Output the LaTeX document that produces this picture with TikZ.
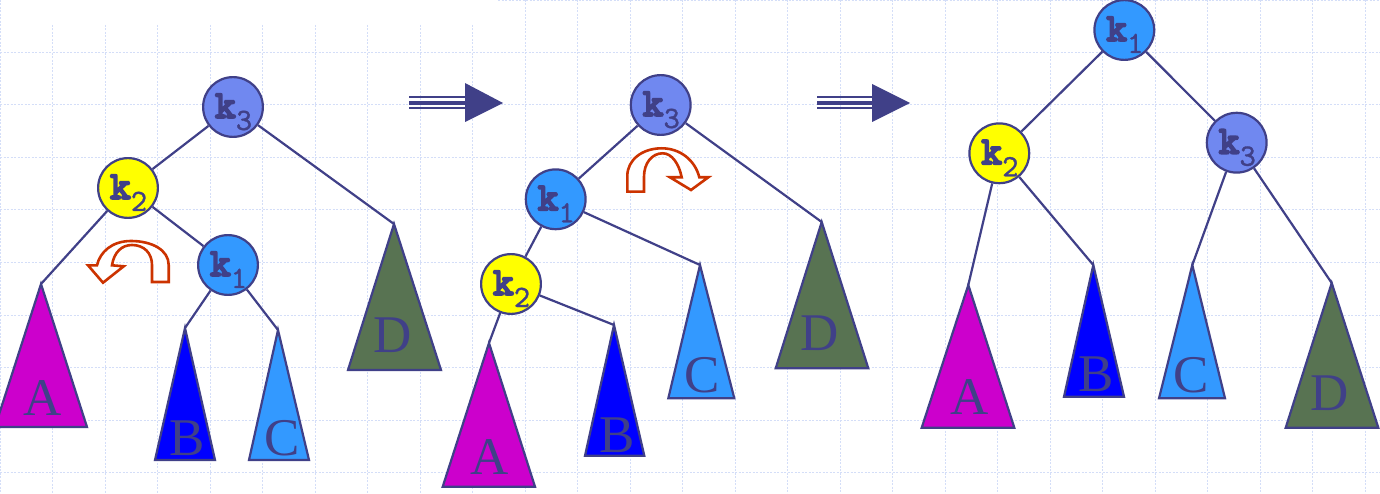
\documentclass[tikz,border=0pt]{standalone}
\usepackage{fontspec}
\newfontfamily\seriff{Liberation Serif}
\newfontfamily\kfont{lmmonolt10-bold.otf}[FakeBold=4]
\newfontfamily\dfont{lmmono10-regular.otf}[FakeBold=1]
\usetikzlibrary{backgrounds}
\definecolor{ink}{HTML}{404088}
\definecolor{kone}{HTML}{3399FF}
\definecolor{ktwo}{HTML}{FFFF00}
\definecolor{kthree}{HTML}{7088F0}
\definecolor{cA}{HTML}{CC00CC}
\definecolor{cB}{HTML}{0000FF}
\definecolor{cC}{HTML}{3399FF}
\definecolor{cD}{HTML}{587352}
\definecolor{rotred}{HTML}{CC3300}
\definecolor{gridc}{HTML}{D4DEF8}
\newcommand\kk[1]{\kern1pt{\kfont\fontsize{40}{40}\selectfont k}\lower12pt\hbox{\dfont\fontsize{31}{31}\selectfont #1}}
\tikzset{
  knode/.style={circle, draw=ink, line width=2.2pt, minimum size=57.5pt, inner sep=0pt,
    text=ink, text height=34pt, text depth=12pt},
  edge/.style={draw=ink, line width=2.2pt},
  tri/.style={draw=ink, line width=2.2pt, line join=miter},
  tlabel/.style={inner sep=0pt, text=ink, font=\seriff\fontsize{53}{53}\selectfont},
  rot/.style={draw=rotred, line width=2.6pt, fill=white, line join=miter},
  gridl/.style={draw=gridc, line width=1pt, dash pattern=on 2pt off 1.5pt},
  shaft/.style={draw=ink},
}
\begin{document}
\begin{tikzpicture}[x=1pt,y=-1pt]
\useasboundingbox (0,0) rectangle (1380,494);
\clip (0,0) rectangle (1380,494);
% ---------- grid (background)
\begin{scope}[on background layer]
  \fill[white] (0,0) rectangle (1380,494);
  \foreach \i in {1,...,9} \draw[gridl] (0,52.5*\i) -- (1380,52.5*\i);
  \draw[gridl] (498,0.6) -- (1380,0.6);
  \draw[gridl] (0.6,0) -- (0.6,494);
  \foreach \i in {1,...,9} \draw[gridl] (52.5*\i,25) -- (52.5*\i,494);
  \foreach \i in {10,...,26} \draw[gridl] (52.5*\i,0) -- (52.5*\i,494);
\end{scope}

% ================= LEFT TREE =================
\node[knode, fill=kthree] (Lk3) at (233,107) {\kk{3}};
\node[knode, fill=ktwo]   (Lk2) at (128,188) {\kk{2}};
\node[knode, fill=kone]   (Lk1) at (228,265) {\kk{1}};
\coordinate (LA) at (41,284);
\coordinate (LB) at (185,328);
\coordinate (LC) at (278,330);
\coordinate (LD) at (394,224);
\draw[tri, fill=cA] (LA) -- (-5,427) -- (87,427) -- cycle;
\draw[tri, fill=cB] (LB) -- (155,460) -- (215,460) -- cycle;
\draw[tri, fill=cC] (LC) -- (249,460) -- (309,460) -- cycle;
\draw[tri, fill=cD] (LD) -- (348,370) -- (441,370) -- cycle;
\node[tlabel] (LlA) at (43,398) {A};
\node[tlabel] (LlB) at (187,438) {B};
\node[tlabel] (LlC) at (282,438) {C};
\node[tlabel] (LlD) at (393,335) {D};
\begin{scope}[on background layer]
  \draw[edge] (Lk3) -- (Lk2);
  \draw[edge] (Lk3) -- (LD);
  \draw[edge] (Lk2) -- (LA);
  \draw[edge] (Lk2) -- (Lk1);
  \draw[edge] (Lk1) -- (LB);
  \draw[edge] (Lk1) -- (LC);
\end{scope}
% rotation arrow (left)
\draw[rot] (168.7,282) -- (168.7,265) .. controls (168.7,250) and (152,241) .. (131,241)
  .. controls (112,241) and (100,252) .. (97,265.3) -- (88,265.3) -- (103,282.7) -- (123.7,266.3)
  -- (112,265.3) .. controls (114,252) and (122,245) .. (132,245)
  .. controls (144,245) and (152,253) .. (152,265) -- (152,282) -- cycle;

% ================= ARROW 1 =================
\draw[shaft, line width=2pt] (409,97) -- (466,97);
\draw[shaft, line width=4.2pt] (409,102.8) -- (466,102.8);
\draw[shaft, line width=2.2pt] (409,107.8) -- (466,107.8);
\fill[ink] (465,83) -- (503,103) -- (465,122) -- cycle;

% ================= MIDDLE TREE =================
\node[knode, fill=kthree] (Mk3) at (660.7,105) {\kk{3}};
\node[knode, fill=kone]   (Mk1) at (555.7,199.3) {\kk{1}};
\node[knode, fill=ktwo]   (Mk2) at (511,284) {\kk{2}};
\coordinate (MA) at (489,343);
\coordinate (MB) at (614,325);
\coordinate (MC) at (700,265);
\coordinate (MD) at (821.7,222);
\draw[tri, fill=cA] (MA) -- (442.7,486.7) -- (535,486.7) -- cycle;
\draw[tri, fill=cB] (MB) -- (585,455.7) -- (644.3,455.7) -- cycle;
\draw[tri, fill=cC] (MC) -- (668.3,398.3) -- (734.3,398.3) -- cycle;
\draw[tri, fill=cD] (MD) -- (775.7,368.3) -- (868.3,368.3) -- cycle;
\node[tlabel] (MlA) at (490,456.7) {A};
\node[tlabel] (MlB) at (616.7,435) {B};
\node[tlabel] (MlC) at (701.7,375) {C};
\node[tlabel] (MlD) at (820,333) {D};
\begin{scope}[on background layer]
  \draw[edge] (Mk3) -- (Mk1);
  \draw[edge] (Mk3) -- (MD);
  \draw[edge] (Mk1) -- (Mk2);
  \draw[edge] (Mk1) -- (MC);
  \draw[edge] (Mk2) -- (MA);
  \draw[edge] (Mk2) -- (MB);
\end{scope}
% rotation arrow (middle)
\draw[rot] (627.3,191.7) -- (627.3,176) .. controls (627.3,160) and (642,148.3) .. (661.7,148.3)
  .. controls (680,148.3) and (695,160) .. (699.3,177.3) -- (708.3,177.3) -- (691,190) -- (670,177.3)
  -- (681.7,177.3) .. controls (679,164) and (672,153.3) .. (662.7,153.3)
  .. controls (652,153.3) and (644,163) .. (644,176.7) -- (644,191.7) -- cycle;

% ================= ARROW 2 =================
\draw[shaft, line width=2pt] (817,97.5) -- (873,97.5);
\draw[shaft, line width=4.2pt] (817,103) -- (873,103);
\draw[shaft, line width=2.2pt] (817,108) -- (873,108);
\fill[ink] (872,84) -- (910,103) -- (872,122) -- cycle;

% ================= RIGHT TREE =================
\node[knode, fill=kone]   (Rk1) at (1124.3,30) {\kk{1}};
\node[knode, fill=ktwo]   (Rk2) at (999.3,153.3) {\kk{2}};
\node[knode, fill=kthree] (Rk3) at (1236.7,142.7) {\kk{3}};
\coordinate (RA) at (968.3,285);
\coordinate (RB) at (1093.3,265);
\coordinate (RC) at (1192.3,265);
\coordinate (RD) at (1331.7,283);
\draw[tri, fill=cA] (RA) -- (921.7,427.7) -- (1014.3,427.7) -- cycle;
\draw[tri, fill=cB] (RB) -- (1064,396.7) -- (1124,396.7) -- cycle;
\draw[tri, fill=cC] (RC) -- (1159,398.3) -- (1225,398.3) -- cycle;
\draw[tri, fill=cD] (RD) -- (1285.7,427.7) -- (1378.3,427.7) -- cycle;
\node[tlabel] (RlA) at (970,396.7) {A};
\node[tlabel] (RlB) at (1096,374) {B};
\node[tlabel] (RlC) at (1191,375) {C};
\node[tlabel] (RlD) at (1330,392.7) {D};
\begin{scope}[on background layer]
  \draw[edge] (Rk1) -- (Rk2);
  \draw[edge] (Rk1) -- (Rk3);
  \draw[edge] (Rk2) -- (RA);
  \draw[edge] (Rk2) -- (RB);
  \draw[edge] (Rk3) -- (RC);
  \draw[edge] (Rk3) -- (RD);
\end{scope}
\end{tikzpicture}
\end{document}
